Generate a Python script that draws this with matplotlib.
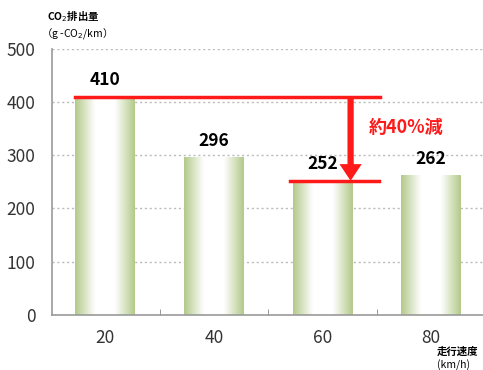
import numpy as np
import matplotlib.pyplot as plt
from matplotlib.colors import LinearSegmentedColormap

plt.rcParams['font.family'] = ['Noto Sans CJK JP', 'DejaVu Sans']

speeds = ["20", "40", "60", "80"]
co2 = [410, 296, 252, 262]
yticks = [0, 100, 200, 300, 400, 500]
note = "約40%減"

fig = plt.figure(figsize=(4.83, 3.70), dpi=100)
ax = fig.add_axes([0.108, 0.149, 0.892, 0.719])

# green -> white -> green gradient bars
cmap = LinearSegmentedColormap.from_list("g", ["#b3c98a", "#ffffff", "#ffffff", "#b3c98a"])
grad = np.linspace(0, 1, 256).reshape(1, -1)
w = 0.55
x = np.arange(len(speeds))
for xi, v in zip(x, co2):
    ax.imshow(grad, cmap=cmap, aspect="auto", extent=[xi - w / 2, xi + w / 2, 0, v], zorder=2)
    ax.text(xi, v + 14, str(v), ha="center", va="bottom", fontsize=12.5, fontweight="bold", zorder=5)

ax.set_xlim(-0.49, 3.48)
ax.set_ylim(0, 500)
ax.set_yticks(yticks)
ax.set_xticks(x)
ax.set_xticklabels(speeds, fontsize=12.5, color="#333333")
ax.set_yticklabels([str(t) for t in yticks], fontsize=12.5, color="#333333")
ax.tick_params(axis="y", length=0, pad=12)
ax.tick_params(axis="x", length=0, pad=10)
ax.set_xticks([0.5, 1.5, 2.5], minor=True)
ax.tick_params(axis="x", which="minor", direction="in", length=4, color="#888888")
for t in yticks[1:]:
    ax.axhline(t, color="#bbbbbb", lw=1, ls=(0, (1.5, 2)), zorder=1)
for s in ["top", "right"]:
    ax.spines[s].set_visible(False)
for s in ["left", "bottom"]:
    ax.spines[s].set_color("#999999")
    ax.spines[s].set_linewidth(1.2)

# reduction markers
ax.plot([-0.275, 2.53], [co2[0], co2[0]], color="#ff1a1a", lw=2.5, zorder=4)
ax.plot([1.70, 2.52], [co2[2], co2[2]], color="#ff1a1a", lw=2.5, zorder=4)
ax.annotate("", xy=(2.26, co2[2]), xytext=(2.26, co2[0]),
            arrowprops=dict(arrowstyle="simple,head_width=1.6,head_length=1.2,tail_width=0.45",
                            color="#ff1a1a", lw=0, shrinkA=0, shrinkB=0), zorder=4)
ax.text(2.77, 353, note, color="#ff1a1a", fontsize=13, fontweight="bold", ha="center", va="center")

fig.text(0.098, 0.955, "CO$_2$排出量", fontsize=7.5, fontweight="bold", ha="left", va="center")
fig.text(0.085, 0.91, "（g -CO$_2$/km）", fontsize=7.5, ha="left", va="center")
fig.text(0.905, 0.05, "走行速度", fontsize=7.5, fontweight="bold", ha="left", va="center")
fig.text(0.905, 0.012, "(km/h)", fontsize=7.5, ha="left", va="center")

fig.savefig("out.png", dpi=100)
